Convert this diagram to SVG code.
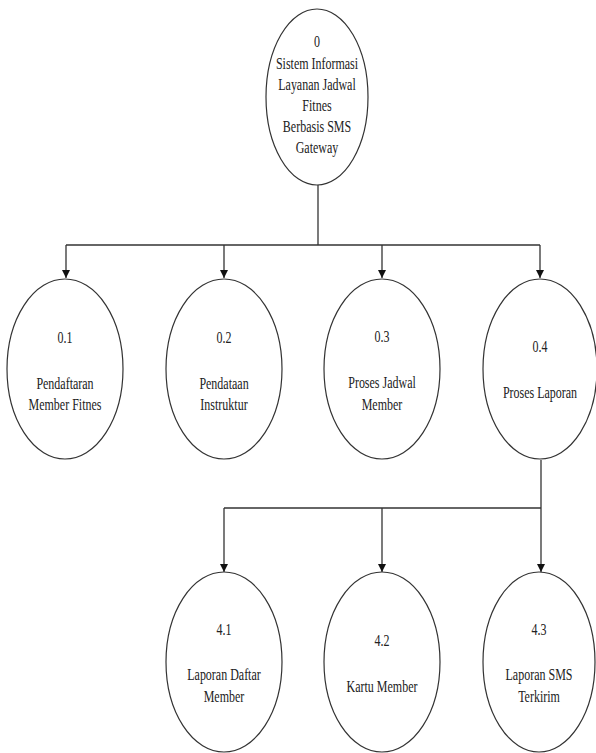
<svg xmlns="http://www.w3.org/2000/svg" width="596" height="753" viewBox="0 0 596 753">
<style>
.n{fill:#fff;stroke:#333;stroke-width:1.2}
.t{font-size:12px;fill:#222;text-anchor:middle}
.c{fill:none;stroke:#333;stroke-width:1.3}
</style>
<defs>
<marker id="ah" markerWidth="8" markerHeight="10" refX="8" refY="5" orient="auto" markerUnits="userSpaceOnUse" viewBox="0 0 8 10"><path d="M0,1 L8,5 L0,9 Z" fill="#111"/></marker>
</defs>
<rect width="596" height="753" fill="#fff"/>
<g id="connectors">
<path class="c" d="M318,185 V245"/>
<path class="c" d="M66,245 H540"/>
<path class="c" d="M66,245 V278" marker-end="url(#ah)"/>
<path class="c" d="M224,245 V278" marker-end="url(#ah)"/>
<path class="c" d="M382,245 V278" marker-end="url(#ah)"/>
<path class="c" d="M540,245 V278" marker-end="url(#ah)"/>
<path class="c" d="M541,460 V508"/>
<path class="c" d="M224,508 H541"/>
<path class="c" d="M224,508 V572" marker-end="url(#ah)"/>
<path class="c" d="M382,508 V572" marker-end="url(#ah)"/>
<path class="c" d="M541,508 V572" marker-end="url(#ah)"/>
</g>
<g font-family="'Liberation Serif', 'Times New Roman', 'DejaVu Serif', serif">
<g id="n0">
<ellipse class="n" cx="317" cy="97" rx="51" ry="88"/>
<text class="t" transform="translate(317,47) scale(1,1.4)">0</text>
<text class="t" transform="translate(317,69) scale(1,1.4)">Sistem Informasi</text>
<text class="t" transform="translate(317,90) scale(1,1.4)">Layanan Jadwal</text>
<text class="t" transform="translate(317,111) scale(1,1.4)">Fitnes</text>
<text class="t" transform="translate(317,132) scale(1,1.4)">Berbasis SMS</text>
<text class="t" transform="translate(317,153) scale(1,1.4)">Gateway</text>
</g>
<g id="n01">
<ellipse class="n" cx="65" cy="369" rx="58" ry="90"/>
<text class="t" transform="translate(65,343) scale(1,1.4)">0.1</text>
<text class="t" transform="translate(65,389) scale(1,1.4)">Pendaftaran</text>
<text class="t" transform="translate(65,410) scale(1,1.4)">Member Fitnes</text>
</g>
<g id="n02">
<ellipse class="n" cx="224" cy="369" rx="58" ry="90"/>
<text class="t" transform="translate(224,343) scale(1,1.4)">0.2</text>
<text class="t" transform="translate(224,389) scale(1,1.4)">Pendataan</text>
<text class="t" transform="translate(224,410) scale(1,1.4)">Instruktur</text>
</g>
<g id="n03">
<ellipse class="n" cx="382" cy="369" rx="58" ry="90"/>
<text class="t" transform="translate(382,342) scale(1,1.4)">0.3</text>
<text class="t" transform="translate(382,388) scale(1,1.4)">Proses Jadwal</text>
<text class="t" transform="translate(382,410) scale(1,1.4)">Member</text>
</g>
<g id="n04">
<ellipse class="n" cx="540" cy="369" rx="57" ry="90"/>
<text class="t" transform="translate(540,352) scale(1,1.4)">0.4</text>
<text class="t" transform="translate(540,398) scale(1,1.4)">Proses Laporan</text>
</g>
<g id="n41">
<ellipse class="n" cx="224" cy="662" rx="58" ry="90"/>
<text class="t" transform="translate(224,635) scale(1,1.4)">4.1</text>
<text class="t" transform="translate(224,680) scale(1,1.4)">Laporan Daftar</text>
<text class="t" transform="translate(224,702) scale(1,1.4)">Member</text>
</g>
<g id="n42">
<ellipse class="n" cx="382" cy="662" rx="58" ry="90"/>
<text class="t" transform="translate(382,646) scale(1,1.4)">4.2</text>
<text class="t" transform="translate(382,692) scale(1,1.4)">Kartu Member</text>
</g>
<g id="n43">
<ellipse class="n" cx="539" cy="662" rx="56" ry="90"/>
<text class="t" transform="translate(539,635) scale(1,1.4)">4.3</text>
<text class="t" transform="translate(539,680) scale(1,1.4)">Laporan SMS</text>
<text class="t" transform="translate(539,702) scale(1,1.4)">Terkirim</text>
</g>
</g>
</svg>
